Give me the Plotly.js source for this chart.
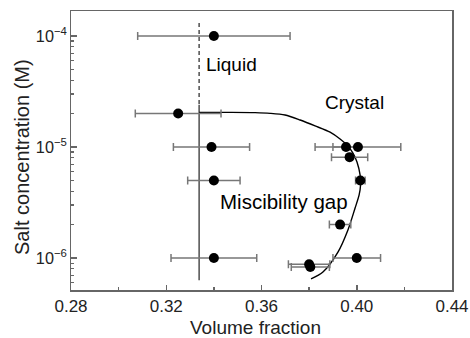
<!DOCTYPE html>
<html>
<head>
<meta charset="utf-8">
<script src="https://cdn.plot.ly/plotly-3.0.1.min.js"></script>
<style>html,body{margin:0;padding:0;background:#fff;}#chart{width:470px;height:338px;}</style>
</head>
<body>
<div id="chart"></div>
<script>
// Measured points (volume fraction, salt concentration) with horizontal error bars
var phi       = [0.340, 0.325, 0.339, 0.3955, 0.4005, 0.397, 0.340, 0.4015, 0.393, 0.340, 0.400, 0.380, 0.3805];
var salt      = [1e-4, 2.0e-5, 1e-5, 1e-5, 1e-5, 8.1e-6, 5e-6, 5e-6, 2.0e-6, 1e-6, 1e-6, 8.8e-7, 8.3e-7];
var errMinus  = [0.032, 0.018, 0.016, 0.0055, 0.018, 0.0076, 0.011, 0.002, 0.0045, 0.018, 0.010, 0.0087, 0.008];
var errPlus   = [0.032, 0.018, 0.016, 0.0055, 0.018, 0.0076, 0.011, 0.002, 0.0045, 0.018, 0.010, 0.0087, 0.008];

// Phase boundary: liquid / miscibility gap vertical line
var liqX      = [0.3338, 0.3338];
var liqDashY  = [1.31e-4, 2.4e-5];
var liqSolidY = [2.4e-5, 6.3e-7];

// Crystal boundary curve
var crysX = [0.3338, 0.3468, 0.3573, 0.3636, 0.3699, 0.3762, 0.3825, 0.3888, 0.3930, 0.3959, 0.3984, 0.4001, 0.4014, 0.4016, 0.4010, 0.3993, 0.3963, 0.3921, 0.3858, 0.3808];
var crysY = [2.05e-5, 2.05e-5, 2.04e-5, 2.01e-5, 1.94e-5, 1.75e-5, 1.55e-5, 1.36e-5, 1.18e-5, 1.04e-5, 8.83e-6, 7.33e-6, 5.6e-6, 4.55e-6, 3.7e-6, 2.82e-6, 1.79e-6, 1.13e-6, 7.48e-7, 6.48e-7];

// Region labels
var labelText = ['Liquid', 'Crystal', 'Miscibility gap'];
var labelX    = [0.3359, 0.3858, 0.3417];
var labelY    = [5.48e-5, 2.54e-5, 3.2e-6];
var labelSize = [19, 19, 20.5];

var xTitle = 'Volume fraction';
var yTitle = 'Salt concentration (M)';

var xTickVals = [0.28, 0.32, 0.36, 0.40, 0.44];

var FONT = 'Liberation Sans, Arial, sans-serif';

var traces = [
  {x: liqX, y: liqDashY, mode: 'lines', line: {color: '#333', width: 1.3, dash: '4px,3px'}, hoverinfo: 'skip', showlegend: false},
  {x: liqX, y: liqSolidY, mode: 'lines', line: {color: '#333', width: 1.3}, hoverinfo: 'skip', showlegend: false},
  {x: crysX, y: crysY, mode: 'lines', line: {color: '#000', width: 1.4, shape: 'spline', smoothing: 0.8}, hoverinfo: 'skip', showlegend: false},
  {x: phi, y: salt, mode: 'markers', type: 'scatter',
   marker: {color: '#000', size: 10},
   error_x: {type: 'data', symmetric: false, array: errPlus, arrayminus: errMinus, color: '#777', thickness: 1.5, width: 4},
   showlegend: false}
];

var annotations = labelText.map(function (t, i) {
  return {x: labelX[i], y: Math.log10(labelY[i]), xref: 'x', yref: 'y', text: t, showarrow: false,
          xanchor: 'left', yanchor: 'middle', font: {family: FONT, size: labelSize[i], color: '#000'}};
});
annotations.push({x: 0.483, y: -0.136, xref: 'paper', yref: 'paper', text: xTitle, showarrow: false,
                  xanchor: 'center', yanchor: 'middle', font: {family: FONT, size: 19, color: '#222'}});
annotations.push({x: -0.1286, y: 0.4767, xref: 'paper', yref: 'paper', text: yTitle, showarrow: false, textangle: -90,
                  xanchor: 'center', yanchor: 'middle', font: {family: FONT, size: 20, color: '#222'}});

var layout = {
  width: 470, height: 338,
  margin: {l: 71, r: 18, t: 11, b: 48},
  paper_bgcolor: '#fff', plot_bgcolor: '#fff',
  font: {family: FONT, color: '#222'},
  showlegend: false,
  xaxis: {
    range: [0.28, 0.44], tickmode: 'array', tickvals: xTickVals, tickformat: '.2f',
    ticks: 'inside', ticklen: 5, tickwidth: 1.5, tickcolor: '#666',
    minor: {dtick: 0.02, tick0: 0.28, ticks: 'inside', ticklen: 3, tickwidth: 1.5, tickcolor: '#666'},
    showline: true, linecolor: '#666', linewidth: 1.5, mirror: true,
    showgrid: false, zeroline: false,
    tickfont: {family: FONT, size: 17, color: '#222'}
  },
  yaxis: {
    type: 'log', range: [-6.288, -3.775], dtick: 1, exponentformat: 'power',
    ticks: 'inside', ticklen: 6, tickwidth: 1.5, tickcolor: '#666',
    minor: {dtick: 'D1', ticks: 'inside', ticklen: 3, tickwidth: 1.2, tickcolor: '#666'},
    showline: true, linecolor: '#666', linewidth: 1.5, mirror: true,
    showgrid: false, zeroline: false,
    tickfont: {family: FONT, size: 13, color: '#222'}
  },
  annotations: annotations
};

Plotly.newPlot('chart', traces, layout, {displayModeBar: false, staticPlot: true});
</script>
</body>
</html>
